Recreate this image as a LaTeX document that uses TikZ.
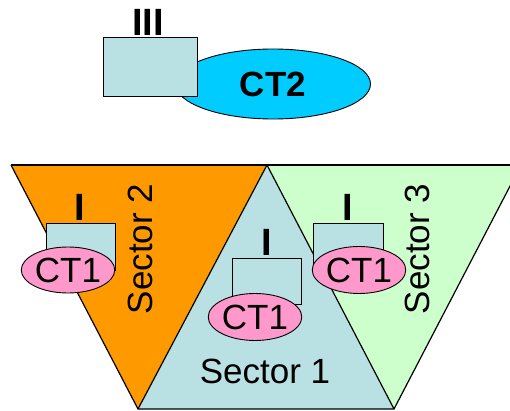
\documentclass[tikz,border=0pt]{standalone}
\usepackage{fontspec}
\setmainfont{Liberation Sans}
\usetikzlibrary{shapes.geometric}
\definecolor{orangeF}{HTML}{FF9900}
\definecolor{blueF}{HTML}{B9E0E3}
\definecolor{greenF}{HTML}{CCFFCC}
\definecolor{pinkF}{HTML}{FF99CC}
\definecolor{cyanF}{HTML}{00CCFF}
\tikzset{
  sector/.style={draw=black, line width=1.2pt, line join=miter},
  unitbox/.style={draw=black, line width=0.9pt, fill=blueF},
  ctoval/.style={draw=black, line width=0.9pt, ellipse, inner sep=0pt, font=\fontsize{35}{35}\selectfont},
  lbl/.style={font=\fontsize{35}{35}\selectfont, inner sep=0pt},
  tag/.style={font=\fontsize{38}{38}\selectfont\bfseries, inner sep=0pt}
}
\begin{document}
\begin{tikzpicture}[x=1pt,y=1pt]
\useasboundingbox (0,0) rectangle (510,410);
\clip (0,0) rectangle (510,410);
% three sectors
\coordinate (tl) at (11,245);
\coordinate (apex) at (267,245);
\coordinate (bl) at (138,1);
\coordinate (br) at (394,1);
\coordinate (tr) at (521,245);
\fill[blueF] (apex) -- (bl) -- (br) -- cycle;
\fill[orangeF] (tl) -- (apex) -- (bl) -- cycle;
\fill[greenF] (apex) -- (tr) -- (br) -- cycle;
\draw[sector] (tl) -- (tr);
\draw[sector] (tl) -- (bl) -- (br) -- (tr);
\draw[sector] (bl) -- (apex) -- (br);
\node[lbl, rotate=90] (s2) at (140,161) {Sector 2};
\node[lbl, rotate=90] (s3) at (417,161) {Sector 3};
\node[lbl] (s1) at (265,39) {Sector 1};
% CT2 with unit III
\node[ctoval, fill=cyanF, minimum width=195, minimum height=70, font=\fontsize{35}{35}\selectfont\bfseries] (ct2) at (273,326) {CT2};
\draw[unitbox] (103,314) rectangle (197,373);
\node[tag] (t3) at (148,388) {III};
% Sector 2 CT1
\draw[unitbox] (46,140) rectangle (115,187);
\node[ctoval, fill=pinkF, minimum width=93, minimum height=46] (c2) at (68,140) {CT1};
\node[tag] (t2) at (80,203) {I};
% Sector 1 CT1
\draw[unitbox] (232,106) rectangle (301,152);
\node[ctoval, fill=pinkF, minimum width=93, minimum height=47] (c1) at (255,93) {CT1};
\node[tag] (t1) at (267,168) {I};
% Sector 3 CT1
\draw[unitbox] (313,140) rectangle (383,187);
\node[ctoval, fill=pinkF, minimum width=92, minimum height=47] (c3) at (359,140) {CT1};
\node[tag] (t4) at (348,203) {I};
\end{tikzpicture}
\end{document}
